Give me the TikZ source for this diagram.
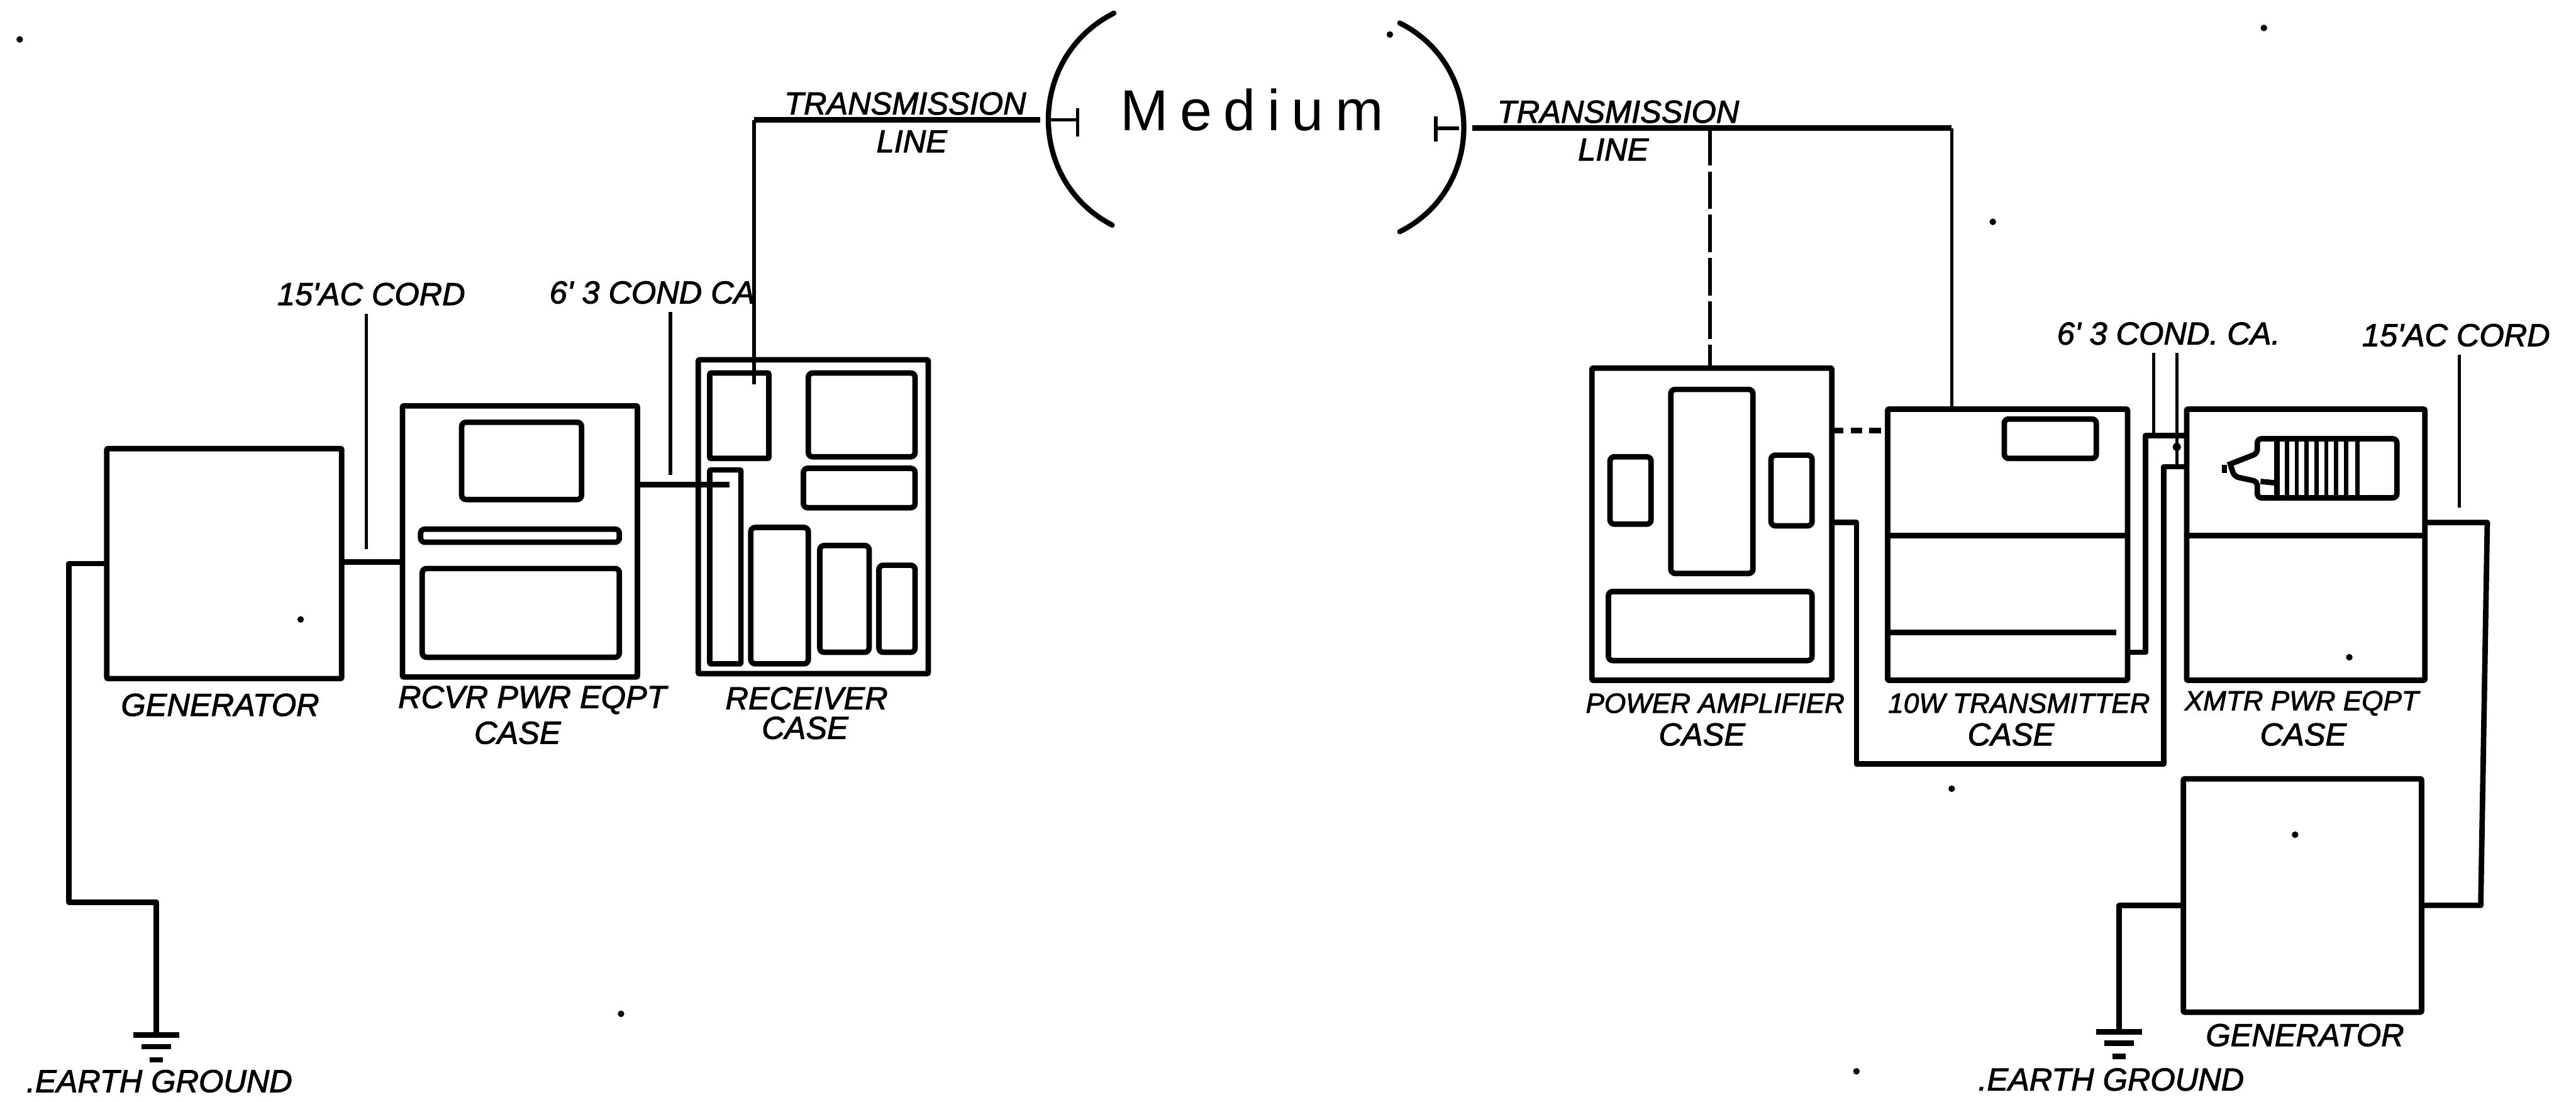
\documentclass[tikz,border=0pt]{standalone}
\usepackage{fontspec}
\setmainfont{Liberation Sans}
\newfontfamily\mediumfont[LetterSpace=20]{Liberation Sans}
\newfontfamily\capfont[ItalicFeatures={FakeBold=2}]{Liberation Sans}
\usetikzlibrary{fit}

\begin{document}
\begin{tikzpicture}[
    x=0.2mm, y=-0.2mm,
    casebox/.style={draw=black, line width=1.9pt, inner sep=0pt, outer sep=0pt, rounded corners=0.5pt},
    panel/.style={draw=black, line width=1.9pt, rounded corners=1.5pt},
    wire/.style={draw=black, line width=1.9pt, line join=round},
    feedline/.style={draw=black, line width=1.2pt},
    dashline/.style={draw=black, line width=1.3pt, dash pattern=on 13pt off 2pt},
    pointer/.style={draw=black, line width=1.2pt},
    caplabel/.style={font=\fontsize{11}{13}\selectfont\capfont\itshape, text=black, inner sep=0pt, outer sep=1mm},
    caplabelnarrow/.style={font=\fontsize{9.6}{12}\selectfont\capfont\itshape, text=black, inner sep=0pt, outer sep=1mm}
]
\useasboundingbox (0,0) rectangle (1568,670.3);

% ----------------------------------------------------------
% Medium
% ----------------------------------------------------------
\draw[line width=1.8pt, line cap=round] (678,8) .. controls (625,35) and (625,110) .. (677,137);
\draw[line width=1.8pt, line cap=round] (852,14) .. controls (904,40) and (904,115) .. (852,141);
\node[font=\fontsize{20}{24}\selectfont\mediumfont, inner sep=0pt] (medium) at (762,67) {Medium};

\coordinate (antL) at (656,73);
\coordinate (antR) at (874,78);
\draw[feedline] (antL) -- (638,73);
\draw[feedline] (656,66) -- (656,83);
\draw[feedline] (antR) -- (888,78);
\draw[feedline] (874,71) -- (874,86);

% ----------------------------------------------------------
% Receiving side
% ----------------------------------------------------------
\node[casebox, fit={(65,273) (208,413)}] (genL) {};
\node[casebox, fit={(245,247) (388,412)}] (rcvrPwr) {};
\node[casebox, fit={(425,219) (565,410)}] (receiver) {};
\node[casebox, fit={(432,227) (468,279)}] (recvA) {};
\node[casebox, fit={(432,286) (451,404)}] (recvD) {};

\foreach \xa/\ya/\xb/\yb in {281/257/354/304, 256/322/377/330, 257/346/377/400,
    492/227/557/278, 489/285/557/309, 457/321/492/404, 499/332/529/397, 535/344/557/397} {
    \draw[panel] (\xa,\ya) rectangle (\xb,\yb);
}

\node[caplabel] (lblGenL) at (134,429) {GENERATOR};
\node[caplabel] (lblRcvr) at (324,426) {RCVR PWR EQPT};
\node[caplabel] (lblRcvrCase) at (315,446) {CASE};
\node[caplabel] (lblRecv) at (491,425) {RECEIVER};
\node[caplabel] (lblRecvCase) at (490,443) {CASE};
\node[caplabel] (lblAcL) at (226,179) {15'AC CORD};
\node[caplabel] (lblCondL) at (397,178) {6' 3 COND CA};
\node[caplabel] (lblTransL) at (551,63) {TRANSMISSION};
\node[caplabel] (lblLineL) at (555,86) {LINE};
\node[caplabel] (lblEarthL) at (97,658) {.EARTH GROUND};

\coordinate (gndL) at (95,630);
\coordinate (recvAin) at (459,234);
\coordinate (recvDin) at (444,295);
\coordinate (lineEndL) at (633,73);
\draw[wire] (genL.west |- 0,343) -- (42,343) -- (42,549) -- (95,549) -- (gndL);
\draw[wire] (genL.east |- 0,342) -- (rcvrPwr.west |- 0,342);
\draw[wire] (rcvrPwr.east |- 0,295) -- (recvDin);
\draw[wire] (459,73) -- (lineEndL);
\draw[feedline] (recvAin) -- (459,73);

\draw[pointer] (lblAcL.south -| 223,0) -- (223,334);
\draw[pointer] (lblCondL.south -| 408,0) -- (408,289);

% ----------------------------------------------------------
% Transmitting side
% ----------------------------------------------------------
\node[casebox, fit={(969,224) (1115,414)}] (powerAmp) {};
\node[casebox, fit={(1149,249) (1295,414)}] (transmitter) {};
\node[casebox, fit={(1331,249) (1476,414)}] (xmtrPwr) {};
\node[casebox, fit={(1329,474) (1474,616)}] (genR) {};

\foreach \xa/\ya/\xb/\yb in {1017/237/1067/349, 980/278/1005/319, 1078/277/1103/320,
    979/360/1103/402, 1220/255/1276/279} {
    \draw[panel] (\xa,\ya) rectangle (\xb,\yb);
}

% Trennlinien in den Gehaeusen
\draw[wire] (transmitter.west |- 0,326) -- (transmitter.east |- 0,326);
\draw[wire] (transmitter.west |- 0,385) -- (1288,385);
\draw[wire] (xmtrPwr.west |- 0,326) -- (xmtrPwr.east |- 0,326);

% Roehre im Gehaeuse
\draw[panel] (1356,283) -- (1374,276) -- (1374,267) -- (1459,267) -- (1459,303) -- (1374,303)
    -- (1374,293) -- (1360,290) -- (1358,284);
\draw[wire] (1354,283) -- (1354,288);
\draw[wire] (1376,293) -- (1386,294);
\draw[wire] (1386,267) -- (1386,303);
\foreach \fx in {1392,1398,1404,1410,1416,1422,1428,1435} {
    \draw[draw=black, line width=1.5pt] (\fx,268) -- (\fx,302);
}

\node[caplabelnarrow] (lblAmp) at (1044,428) {POWER AMPLIFIER};
\node[caplabel] (lblAmpCase) at (1036,447) {CASE};
\node[caplabelnarrow] (lblTrans) at (1229,428) {10W TRANSMITTER};
\node[caplabel] (lblTransCase) at (1224,447) {CASE};
\node[caplabelnarrow] (lblXmtr) at (1401,428) {XMTR PWR EQPT};
\node[caplabel] (lblXmtrCase) at (1402,447) {CASE};
\node[caplabel] (lblGenR) at (1403,630) {GENERATOR};
\node[caplabel] (lblEarthR) at (1285,657) {.EARTH GROUND};
\node[caplabel] (lblCondR) at (1320,203) {6' 3 COND. CA.};
\node[caplabel] (lblAcR) at (1495,204) {15'AC CORD};
\node[caplabel] (lblTransR) at (985,68) {TRANSMISSION};
\node[caplabel] (lblLineR) at (982,91) {LINE};

\coordinate (gndR) at (1290,628);
\coordinate (lineEndR) at (896,78);
\draw[wire] (lineEndR) -- (1188,78);
\draw[feedline] (1188,78) -- (transmitter.north -| 1188,0);
\draw[dashline] (1041,78) -- (powerAmp.north -| 1041,0);
\draw[wire, dash pattern=on 4pt off 2.5pt] (powerAmp.east |- 0,262) -- (transmitter.west |- 0,262);
\draw[wire] (powerAmp.east |- 0,318) -- (1130,318) -- (1130,465) -- (1317,465) -- (1317,284) -- (xmtrPwr.west |- 0,284);
\draw[wire] (transmitter.east |- 0,397) -- (1306,397) -- (1306,265) -- (xmtrPwr.west |- 0,265);
\draw[wire] (xmtrPwr.east |- 0,318) -- (1514,318) -- (1510,551) -- (genR.east |- 0,551);
\draw[wire] (genR.west |- 0,551) -- (1290,551) -- (gndR);

\draw[pointer] (lblCondR.south -| 1311,0) -- (1311,265);
\draw[pointer] (lblCondR.south -| 1325,0) -- (1325,284);
\draw[pointer] (lblAcR.south -| 1497,0) -- (1497,309);
\fill[black] (1325,272) circle (2.5);

% ----------------------------------------------------------
% Erdung
% ----------------------------------------------------------
\foreach \gname in {gndL, gndR} {
    \draw[wire] (\gname) ++(-14,0) -- ++(28,0);
    \draw[wire] (\gname) ++(-9,7) -- ++(18,0);
    \draw[wire] (\gname) ++(-4,15) -- ++(8,0);
}

% Flecken der Vorlage
\foreach \px/\py in {12/24, 846/21, 1378/17, 1213/135, 183/377, 378/617, 1188/480,
    1397/508, 1430/400, 1130/652} {
    \fill[black] (\px,\py) circle (2);
}

\end{tikzpicture}
\end{document}
